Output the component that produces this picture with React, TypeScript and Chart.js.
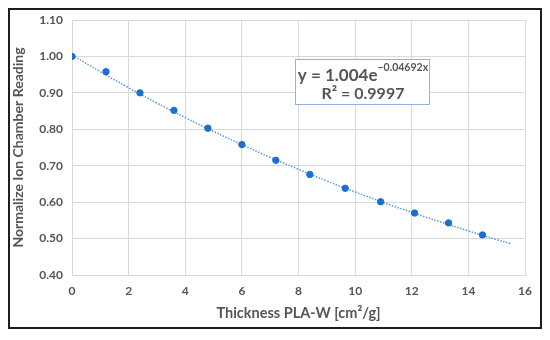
import React, { useEffect, useRef } from "react";
import { Chart, registerables } from "chart.js";

Chart.register(...registerables);

const thickness = [0, 1.2, 2.4, 3.6, 4.8, 6.0, 7.2, 8.4, 9.65, 10.9, 12.1, 13.3, 14.5];
const reading = [1.0, 0.958, 0.9, 0.852, 0.803, 0.758, 0.715, 0.676, 0.638, 0.601, 0.57, 0.543, 0.51];

const trendX = [0, 1, 2, 3, 4, 5, 6, 7, 8, 9, 10, 11, 12, 13, 14, 15, 15.5];
const trendY = [1.004, 0.958, 0.914, 0.872, 0.832, 0.794, 0.758, 0.723, 0.69, 0.658, 0.628, 0.599, 0.572, 0.546, 0.521, 0.497, 0.486];

const yTicks = [0.4, 0.5, 0.6, 0.7, 0.8, 0.9, 1.0, 1.1];
const xTicks = [0, 2, 4, 6, 8, 10, 12, 14, 16];

const eqMain = "y = 1.004e";
const eqExp = "\u22120.04692x";
const eqR2Label = "R\u00b2 = 0.9997";

const FONT = "Lato, 'Open Sans', sans-serif";
const GREY = "#555555";

const equationPlugin = {
  id: "equationBox",
  afterDatasetsDraw(chart: any) {
    const ctx = chart.ctx;
    const bx = 285, by = 49, bw = 134, bh = 45;
    ctx.save();
    ctx.fillStyle = "#ffffff";
    ctx.fillRect(bx, by, bw, bh);
    ctx.strokeStyle = "#8fb4e3";
    ctx.lineWidth = 1;
    ctx.strokeRect(bx + 0.5, by + 0.5, bw, bh);
    ctx.fillStyle = GREY;
    ctx.textBaseline = "alphabetic";
    ctx.font = `bold 17px ${FONT}`;
    const mainW = ctx.measureText(eqMain).width;
    ctx.font = `bold 10.5px ${FONT}`;
    const expW = ctx.measureText(eqExp).width;
    const total = mainW + expW;
    const sx = bx + (bw - total) / 2 + 1;
    ctx.font = `bold 17px ${FONT}`;
    ctx.fillText(eqMain, sx, by + 22);
    ctx.font = `bold 10.5px ${FONT}`;
    ctx.fillText(eqExp, sx + mainW, by + 12);
    ctx.font = `bold 16px ${FONT}`;
    ctx.textAlign = "center";
    ctx.fillText(eqR2Label, bx + bw / 2 + 1, by + 40);
    ctx.restore();
  },
};

export default function App() {
  const ref = useRef<HTMLCanvasElement | null>(null);
  useEffect(() => {
    if (!ref.current) return;
    const chart = new Chart(ref.current, {
      type: "scatter",
      data: {
        datasets: [
          {
            label: "Trend",
            data: trendX.map((x, i) => ({ x, y: trendY[i] })),
            showLine: true,
            borderColor: "#5b9bd5",
            borderWidth: 1.5,
            borderDash: [1.5, 1.5],
            pointRadius: 0,
            tension: 0.4,
            order: 2,
          },
          {
            label: "Data",
            data: thickness.map((x, i) => ({ x, y: reading[i] })),
            backgroundColor: "#1a6fcf",
            borderColor: "#1a6fcf",
            pointRadius: 3.2,
            order: 1,
          },
        ],
      },
      options: {
        animation: false,
        responsive: false,
        devicePixelRatio: 1,
        layout: { padding: { left: 0, right: 15, top: 10, bottom: 5 } },
        plugins: { legend: { display: false }, tooltip: { enabled: false } },
        scales: {
          x: {
            type: "linear",
            min: 0,
            max: 16,
            afterFit: (s: any) => { s.height = 47; s.paddingLeft = 0; s.paddingRight = 0; },
            afterBuildTicks: (s: any) => { s.ticks = xTicks.map((v) => ({ value: v })); },
            grid: { color: "#d9d9d9", drawTicks: false },
            border: { color: "#d9d9d9" },
            ticks: { color: GREY, font: { family: FONT, size: 12, weight: "bold" }, padding: 9 },
            title: {
              display: true,
              text: "Thickness PLA-W [cm\u00b2/g]",
              color: GREY,
              font: { family: FONT, size: 14.5, weight: "bold" },
              padding: { top: 2, bottom: 0 },
            },
          },
          y: {
            type: "linear",
            min: 0.4,
            max: 1.1,
            afterFit: (s: any) => { s.width = 62; s.paddingTop = 0; s.paddingBottom = 0; },
            afterBuildTicks: (s: any) => { s.ticks = yTicks.map((v) => ({ value: v })); },
            grid: { color: "#d9d9d9", drawTicks: false },
            border: { color: "#d9d9d9" },
            ticks: {
              color: GREY,
              font: { family: FONT, size: 12, weight: "bold" },
              padding: 9,
              callback: (v: any) => Number(v).toFixed(2),
            },
            title: {
              display: true,
              text: "Normalize Ion Chamber Reading",
              color: GREY,
              font: { family: FONT, size: 14, weight: "bold" },
              padding: { top: 0, bottom: 5 },
            },
          },
        },
      },
      plugins: [equationPlugin],
    } as any);
    return () => chart.destroy();
  }, []);
  return (
    <div
      style={{
        width: 534,
        height: 321,
        boxSizing: "border-box",
        border: "2px solid #1e1e1e",
        boxShadow: "1px 1px 2px #9a9a9a",
        background: "#fff",
      }}
    >
      <canvas ref={ref} width={530} height={317} style={{ display: "block" }} />
    </div>
  );
}
